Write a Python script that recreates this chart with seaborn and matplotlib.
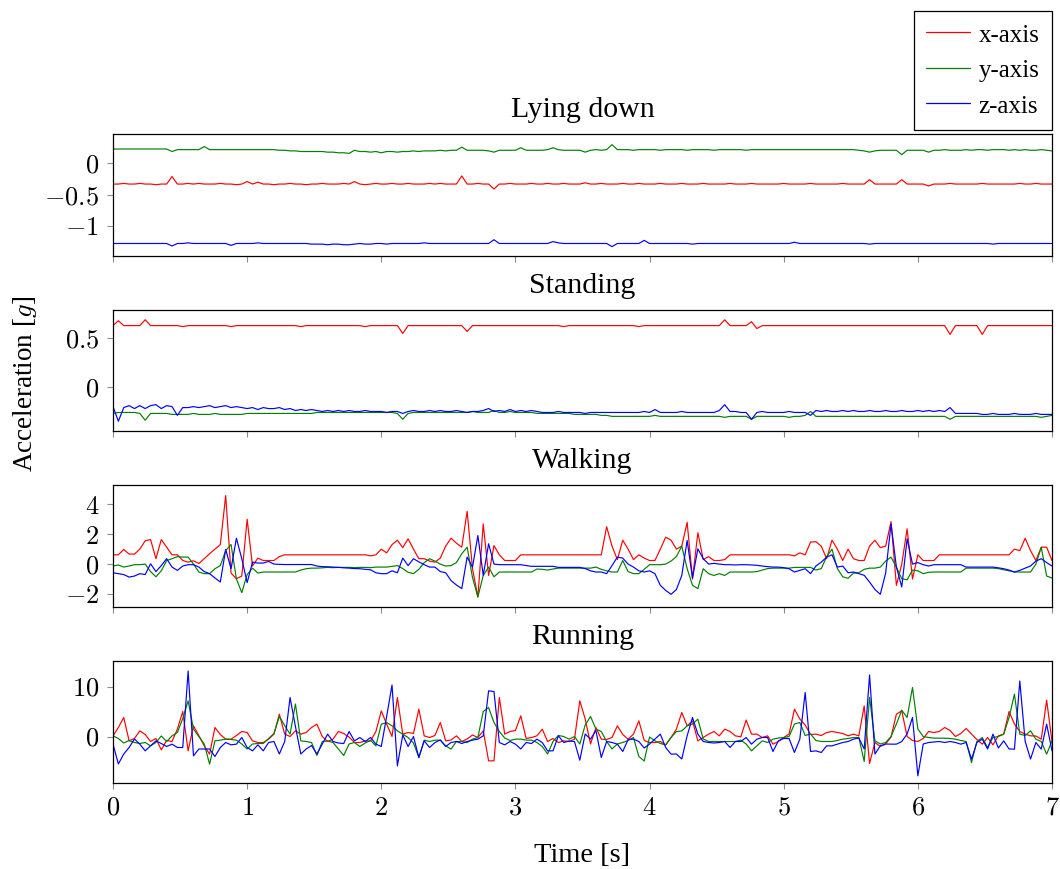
import numpy as np
import pandas as pd
import matplotlib
matplotlib.use("Agg")
import matplotlib.pyplot as plt
import seaborn as sns
from matplotlib.ticker import FuncFormatter

SAMPLE_RATE = 25  # samples per second

panel_titles = ["Lying down", "Standing", "Walking", "Running"]
axis_labels = ["x-axis", "y-axis", "z-axis"]
x_ticks = [0, 1, 2, 3, 4, 5, 6, 7]
y_ticks = [[-1, -0.5, 0], [0, 0.5], [-2, 0, 2, 4], [0, 10]]
y_limits = [(-1.48, 0.47), (-0.45, 0.79), (-2.87, 5.29), (-9.3, 15.1)]

# ---------------- Lying down ----------------
lying_x = [
    -0.33, -0.33, -0.32, -0.33, -0.33, -0.32, -0.33, -0.33, -0.34, -0.33,
    -0.33, -0.21, -0.33, -0.33, -0.32, -0.33, -0.32, -0.33, -0.33, -0.33,
    -0.32, -0.33, -0.33, -0.34, -0.33, -0.29, -0.33, -0.30, -0.33, -0.33,
    -0.34, -0.33, -0.33, -0.32, -0.33, -0.33, -0.34, -0.33, -0.33, -0.32,
    -0.33, -0.33, -0.33, -0.32, -0.33, -0.29, -0.33, -0.34, -0.33, -0.32,
    -0.33, -0.33, -0.32, -0.33, -0.33, -0.32, -0.33, -0.33, -0.33, -0.32,
    -0.33, -0.32, -0.33, -0.33, -0.33, -0.20, -0.33, -0.33, -0.32, -0.33,
    -0.33, -0.41, -0.33, -0.33, -0.32, -0.33, -0.33, -0.33, -0.32, -0.33,
    -0.33, -0.32, -0.33, -0.33, -0.32, -0.33, -0.33, -0.33, -0.31, -0.33,
    -0.33, -0.32, -0.33, -0.33, -0.33, -0.32, -0.33, -0.33, -0.32, -0.33,
    -0.33, -0.33, -0.32, -0.33, -0.33, -0.33, -0.32, -0.33, -0.33, -0.33,
    -0.32, -0.33, -0.33, -0.33, -0.33, -0.32, -0.33, -0.33, -0.33, -0.32,
    -0.33, -0.33, -0.33, -0.33, -0.33, -0.32, -0.33, -0.33, -0.33, -0.33,
    -0.32, -0.33, -0.33, -0.33, -0.33, -0.33, -0.32, -0.33, -0.33, -0.33,
    -0.33, -0.26, -0.33, -0.33, -0.33, -0.33, -0.33, -0.26, -0.33, -0.33,
    -0.33, -0.33, -0.36, -0.33, -0.33, -0.33, -0.32, -0.33, -0.33, -0.33,
    -0.33, -0.33, -0.32, -0.33, -0.33, -0.33, -0.33, -0.33, -0.33, -0.32,
    -0.33, -0.33, -0.32, -0.33, -0.33, -0.33,
]
lying_y = [
    0.23, 0.23, 0.23, 0.23, 0.23, 0.23, 0.23, 0.23, 0.23, 0.23,
    0.23, 0.19, 0.22, 0.22, 0.22, 0.22, 0.22, 0.27, 0.22, 0.22,
    0.22, 0.22, 0.22, 0.22, 0.22, 0.22, 0.22, 0.22, 0.22, 0.22,
    0.22, 0.21, 0.21, 0.20, 0.20, 0.19, 0.19, 0.19, 0.19, 0.19,
    0.18, 0.18, 0.17, 0.17, 0.16, 0.21, 0.19, 0.19, 0.18, 0.19,
    0.17, 0.19, 0.19, 0.18, 0.19, 0.19, 0.20, 0.19, 0.20, 0.20,
    0.20, 0.21, 0.20, 0.21, 0.21, 0.26, 0.21, 0.21, 0.21, 0.21,
    0.20, 0.18, 0.21, 0.21, 0.21, 0.21, 0.25, 0.21, 0.21, 0.21,
    0.21, 0.22, 0.25, 0.22, 0.21, 0.21, 0.21, 0.21, 0.18, 0.21,
    0.22, 0.21, 0.22, 0.30, 0.22, 0.22, 0.22, 0.21, 0.22, 0.22,
    0.22, 0.22, 0.21, 0.22, 0.22, 0.22, 0.22, 0.21, 0.22, 0.22,
    0.22, 0.22, 0.21, 0.22, 0.22, 0.22, 0.22, 0.22, 0.21, 0.22,
    0.22, 0.22, 0.22, 0.22, 0.22, 0.22, 0.22, 0.22, 0.22, 0.22,
    0.22, 0.22, 0.22, 0.22, 0.22, 0.22, 0.22, 0.22, 0.22, 0.21,
    0.20, 0.18, 0.20, 0.21, 0.21, 0.21, 0.21, 0.14, 0.21, 0.21,
    0.21, 0.21, 0.18, 0.21, 0.21, 0.22, 0.21, 0.21, 0.21, 0.22,
    0.21, 0.22, 0.22, 0.21, 0.22, 0.22, 0.22, 0.21, 0.22, 0.21,
    0.22, 0.21, 0.21, 0.22, 0.21, 0.20,
]
lying_z = [
    -1.28, -1.28, -1.28, -1.28, -1.28, -1.28, -1.28, -1.28, -1.28, -1.28,
    -1.28, -1.32, -1.28, -1.28, -1.27, -1.28, -1.28, -1.28, -1.28, -1.28,
    -1.28, -1.28, -1.31, -1.28, -1.28, -1.28, -1.28, -1.27, -1.28, -1.28,
    -1.28, -1.28, -1.28, -1.28, -1.28, -1.28, -1.28, -1.29, -1.29, -1.29,
    -1.30, -1.29, -1.29, -1.30, -1.30, -1.29, -1.28, -1.29, -1.29, -1.28,
    -1.28, -1.29, -1.28, -1.28, -1.28, -1.28, -1.28, -1.28, -1.27, -1.28,
    -1.28, -1.28, -1.28, -1.28, -1.28, -1.28, -1.28, -1.28, -1.28, -1.28,
    -1.28, -1.22, -1.28, -1.28, -1.28, -1.28, -1.28, -1.28, -1.28, -1.28,
    -1.28, -1.28, -1.25, -1.27, -1.28, -1.28, -1.28, -1.28, -1.28, -1.28,
    -1.28, -1.28, -1.28, -1.33, -1.28, -1.28, -1.28, -1.28, -1.28, -1.23,
    -1.28, -1.28, -1.28, -1.28, -1.28, -1.28, -1.28, -1.28, -1.29, -1.28,
    -1.28, -1.28, -1.28, -1.28, -1.28, -1.28, -1.28, -1.28, -1.28, -1.28,
    -1.28, -1.28, -1.28, -1.28, -1.28, -1.28, -1.28, -1.26, -1.28, -1.28,
    -1.28, -1.28, -1.28, -1.28, -1.28, -1.28, -1.28, -1.28, -1.28, -1.28,
    -1.28, -1.29, -1.28, -1.28, -1.28, -1.28, -1.28, -1.28, -1.28, -1.28,
    -1.28, -1.28, -1.28, -1.28, -1.28, -1.28, -1.28, -1.28, -1.28, -1.28,
    -1.28, -1.28, -1.28, -1.28, -1.29, -1.28, -1.28, -1.28, -1.28, -1.28,
    -1.28, -1.28, -1.28, -1.28, -1.28, -1.28,
]

# ---------------- Standing ----------------
standing_x = [
    0.63, 0.68, 0.63, 0.63, 0.63, 0.63, 0.69, 0.63, 0.63, 0.63,
    0.63, 0.63, 0.63, 0.62, 0.63, 0.63, 0.63, 0.63, 0.63, 0.63,
    0.63, 0.63, 0.62, 0.63, 0.63, 0.63, 0.63, 0.63, 0.63, 0.63,
    0.63, 0.63, 0.63, 0.63, 0.63, 0.62, 0.63, 0.63, 0.63, 0.63,
    0.63, 0.63, 0.63, 0.63, 0.63, 0.63, 0.63, 0.62, 0.63, 0.63,
    0.63, 0.63, 0.63, 0.63, 0.55, 0.63, 0.63, 0.63, 0.63, 0.63,
    0.63, 0.63, 0.63, 0.63, 0.63, 0.63, 0.57, 0.63, 0.63, 0.63,
    0.63, 0.63, 0.63, 0.63, 0.63, 0.63, 0.63, 0.63, 0.63, 0.63,
    0.63, 0.63, 0.63, 0.63, 0.62, 0.63, 0.63, 0.63, 0.63, 0.63,
    0.63, 0.63, 0.63, 0.63, 0.63, 0.63, 0.63, 0.63, 0.62, 0.63,
    0.63, 0.63, 0.63, 0.63, 0.63, 0.63, 0.63, 0.63, 0.63, 0.63,
    0.63, 0.63, 0.63, 0.63, 0.69, 0.63, 0.63, 0.63, 0.63, 0.67,
    0.60, 0.63, 0.63, 0.63, 0.63, 0.63, 0.63, 0.63, 0.63, 0.63,
    0.63, 0.63, 0.63, 0.63, 0.63, 0.63, 0.63, 0.63, 0.63, 0.63,
    0.63, 0.63, 0.63, 0.63, 0.63, 0.63, 0.63, 0.63, 0.63, 0.63,
    0.63, 0.63, 0.63, 0.63, 0.63, 0.63, 0.54, 0.63, 0.63, 0.63,
    0.63, 0.63, 0.54, 0.63, 0.63, 0.63, 0.63, 0.63, 0.63, 0.63,
    0.63, 0.63, 0.63, 0.63, 0.63, 0.63,
]
standing_y = [
    -0.27, -0.26, -0.26, -0.26, -0.26, -0.27, -0.34, -0.27, -0.27, -0.27,
    -0.27, -0.28, -0.28, -0.28, -0.28, -0.27, -0.28, -0.28, -0.28, -0.27,
    -0.28, -0.28, -0.28, -0.28, -0.28, -0.27, -0.27, -0.27, -0.27, -0.27,
    -0.27, -0.27, -0.27, -0.27, -0.27, -0.27, -0.27, -0.27, -0.26, -0.26,
    -0.26, -0.26, -0.26, -0.26, -0.26, -0.26, -0.26, -0.26, -0.26, -0.26,
    -0.26, -0.26, -0.26, -0.27, -0.33, -0.27, -0.26, -0.26, -0.26, -0.26,
    -0.26, -0.26, -0.26, -0.26, -0.26, -0.26, -0.26, -0.25, -0.26, -0.26,
    -0.26, -0.24, -0.26, -0.26, -0.25, -0.26, -0.26, -0.26, -0.26, -0.27,
    -0.27, -0.27, -0.27, -0.27, -0.27, -0.27, -0.28, -0.28, -0.28, -0.28,
    -0.28, -0.29, -0.29, -0.30, -0.30, -0.30, -0.30, -0.30, -0.30, -0.30,
    -0.30, -0.29, -0.30, -0.30, -0.30, -0.30, -0.30, -0.30, -0.30, -0.30,
    -0.30, -0.30, -0.30, -0.30, -0.31, -0.30, -0.30, -0.30, -0.30, -0.33,
    -0.30, -0.30, -0.30, -0.30, -0.30, -0.30, -0.31, -0.30, -0.30, -0.29,
    -0.25, -0.30, -0.30, -0.30, -0.30, -0.30, -0.30, -0.30, -0.30, -0.30,
    -0.30, -0.30, -0.30, -0.30, -0.30, -0.30, -0.30, -0.30, -0.30, -0.30,
    -0.30, -0.30, -0.30, -0.30, -0.30, -0.30, -0.33, -0.30, -0.30, -0.30,
    -0.30, -0.30, -0.30, -0.30, -0.30, -0.30, -0.30, -0.30, -0.30, -0.30,
    -0.30, -0.30, -0.30, -0.31, -0.30, -0.29,
]
standing_z = [
    -0.20, -0.35, -0.21, -0.19, -0.22, -0.19, -0.22, -0.19, -0.18, -0.22,
    -0.19, -0.20, -0.29, -0.21, -0.21, -0.20, -0.21, -0.20, -0.19, -0.21,
    -0.20, -0.19, -0.21, -0.20, -0.21, -0.22, -0.21, -0.23, -0.21, -0.22,
    -0.22, -0.21, -0.23, -0.22, -0.24, -0.23, -0.24, -0.23, -0.24, -0.25,
    -0.24, -0.25, -0.24, -0.25, -0.24, -0.25, -0.25, -0.24, -0.25, -0.25,
    -0.25, -0.26, -0.25, -0.25, -0.27, -0.25, -0.24, -0.25, -0.25, -0.24,
    -0.25, -0.24, -0.25, -0.25, -0.24, -0.25, -0.26, -0.25, -0.25, -0.24,
    -0.22, -0.25, -0.24, -0.25, -0.23, -0.25, -0.24, -0.25, -0.24, -0.25,
    -0.26, -0.26, -0.26, -0.25, -0.26, -0.26, -0.26, -0.26, -0.27, -0.26,
    -0.26, -0.26, -0.26, -0.26, -0.26, -0.26, -0.26, -0.26, -0.26, -0.25,
    -0.26, -0.23, -0.26, -0.26, -0.26, -0.26, -0.25, -0.26, -0.26, -0.26,
    -0.26, -0.26, -0.26, -0.24, -0.18, -0.25, -0.25, -0.26, -0.26, -0.33,
    -0.26, -0.25, -0.26, -0.26, -0.26, -0.26, -0.25, -0.26, -0.26, -0.26,
    -0.29, -0.24, -0.25, -0.24, -0.25, -0.25, -0.24, -0.25, -0.24, -0.25,
    -0.25, -0.24, -0.25, -0.25, -0.24, -0.25, -0.25, -0.24, -0.25, -0.25,
    -0.24, -0.25, -0.24, -0.25, -0.24, -0.25, -0.21, -0.27, -0.27, -0.27,
    -0.27, -0.27, -0.28, -0.28, -0.27, -0.28, -0.28, -0.28, -0.27, -0.28,
    -0.28, -0.28, -0.27, -0.28, -0.28, -0.28,
]

# ---------------- Walking ----------------
walking_x = [
    0.62, 0.62, 0.98, 0.67, 0.67, 1.0, 1.56, 1.64, 0.36, 1.64,
    1.13, 0.62, 0.62, 0.24, 0.13, 0.22, 0.04, 0.36, 0.69, 1.0,
    1.3, 4.58, -0.6, -0.98, -0.8, 3.0, -0.13, 0.4, 0.24, 0.24,
    0.24, 0.5, 0.62, 0.62, 0.62, 0.62, 0.62, 0.62, 0.62, 0.62,
    0.62, 0.62, 0.62, 0.62, 0.62, 0.62, 0.62, 0.62, 0.55, 0.62,
    1.0, 0.75, 1.3, 1.6, 1.1, 1.69, 1.0, 0.36, 0.36, 0.2,
    0.13, 0.4, 1.2, 1.73, 1.4, 1.13, 3.53, -0.3, -2.2, 2.69,
    -0.76, 1.24, 0.62, 0.24, 0.24, 0.24, 0.62, 0.62, 0.62, 0.62,
    0.62, 0.62, 0.62, 0.62, 0.62, 0.62, 0.62, 0.62, 0.62, 0.62,
    0.62, 0.62, 2.5, 1.2, 0.3, 1.6, 1.0, 0.3, 0.62, 0.4,
    0.24, 0.24, 1.0, 1.8, 1.6, 1.0, 1.2, 2.8, -1.0, 2.1,
    0.3, 0.5, 0.24, 0.24, 0.3, 0.62, 0.62, 0.62, 0.62, 0.62,
    0.62, 0.62, 0.62, 0.62, 0.62, 0.62, 0.62, 0.55, 0.75, 0.62,
    1.47, 1.5, 1.2, 0.36, 1.6, 1.0, 0.24, 1.0, 0.36, 0.24,
    0.24, 1.2, 1.6, 1.1, 1.2, 2.84, -1.42, 0.0, 2.36, -1.0,
    0.62, 0.24, 0.24, 0.24, 0.62, 0.62, 0.62, 0.62, 0.62, 0.62,
    0.62, 0.62, 0.62, 0.62, 0.62, 0.62, 0.62, 0.62, 1.0, 0.9,
    1.73, 0.9, 0.24, 1.13, 1.13, 0.24,
]
walking_y = [
    -0.13, -0.06, -0.2, -0.13, -0.04, -0.04, 0.0, -0.5, -0.85, -0.45,
    0.24, 0.36, 0.5, 0.47, 0.47, 0.0, -0.53, -0.64, -0.64, -0.31,
    -0.1, 0.9, 1.31, -1.0, -1.91, -0.7, -0.27, -0.6, -0.53, -0.53,
    -0.53, -0.53, -0.53, -0.53, -0.53, -0.4, -0.31, -0.27, -0.27, -0.25,
    -0.22, -0.24, -0.22, -0.22, -0.22, -0.24, -0.22, -0.22, -0.24, -0.2,
    -0.2, -0.2, -0.15, -0.1, -0.3, -0.55, -0.64, -0.35, 0.1, 0.36,
    0.2, 0.0, -0.13, -0.1, 0.1, 0.69, 1.13, -0.9, -2.2, -0.76,
    -0.2, -0.85, -0.53, -0.53, -0.53, -0.53, -0.53, -0.53, -0.53, -0.33,
    -0.35, -0.4, -0.33, -0.27, -0.27, -0.27, -0.27, -0.27, -0.27, -0.27,
    -0.2, -0.35, -0.45, -0.53, -0.53, 0.24, -0.5, -0.64, -0.64, -0.35,
    -0.04, -0.04, -0.04, 0.0, 0.2, 0.5, 1.2, -0.3, -1.42, -1.64,
    -0.31, -0.64, -0.76, -0.64, -0.76, -0.53, -0.53, -0.53, -0.53, -0.53,
    -0.5, -0.4, -0.3, -0.27, -0.27, -0.27, -0.27, -0.22, -0.22, -0.22,
    -0.22, -0.4, -0.3, 0.5, 1.0, -0.3, -0.85, -0.95, -0.6, -0.58,
    -0.35, -0.27, -0.27, -0.2, 0.2, 0.47, -0.2, -0.98, -1.05, -0.4,
    -0.45, -0.64, -0.55, -0.53, -0.53, -0.53, -0.53, -0.53, -0.53, -0.27,
    -0.27, -0.27, -0.27, -0.27, -0.27, -0.3, -0.38, -0.45, -0.53, -0.53,
    -0.53, -0.53, 0.0, 1.13, -0.8, -0.93,
]
walking_z = [
    -0.58, -0.64, -0.7, -0.87, -0.8, -0.64, -0.7, 0.02, -0.5, -0.1,
    0.36, -0.2, -0.42, -0.13, -0.04, -0.04, -0.2, -0.5, -0.64, -0.93,
    -1.2, 0.98, -0.31, 1.73, 0.36, -1.24, 0.13, 0.07, 0.07, 0.18,
    0.0, -0.02, -0.03, -0.03, -0.03, -0.03, -0.03, -0.03, -0.13, -0.17,
    -0.18, -0.2, -0.22, -0.25, -0.27, -0.3, -0.31, -0.35, -0.38, -0.58,
    -0.64, -0.64, -0.45, -0.58, 0.4, -0.1, 0.36, 0.15, -0.04, -0.2,
    -0.2, -0.5, -0.58, -1.1, -1.4, -1.64, 0.47, -0.2, 1.91, -0.76,
    1.36, 0.0, -0.04, -0.04, -0.04, -0.04, -0.04, -0.1, -0.15, -0.15,
    -0.15, -0.15, -0.15, -0.22, -0.22, -0.22, -0.22, -0.22, -0.3, -0.45,
    -0.53, -0.53, -0.64, -0.1, 0.47, 0.4, 0.0, -0.2, -0.45, -0.53,
    -0.45, -0.64, -1.42, -1.76, -2.02, -1.7, -0.76, 1.58, -0.93, 1.02,
    0.36, 0.0, 0.05, 0.0, -0.04, -0.04, -0.06, -0.04, -0.04, -0.06,
    -0.08, -0.13, -0.17, -0.2, -0.2, -0.24, -0.31, -0.53, -0.42, -0.31,
    -0.64, -0.13, 0.13, 0.47, 0.62, -0.2, -0.13, -0.58, -0.53, -0.64,
    -0.75, -1.2, -1.7, -2.02, -0.6, 2.69, -0.2, -1.53, 1.69, 0.0,
    0.1, -0.04, -0.13, -0.04, -0.04, -0.04, -0.04, -0.04, -0.04, -0.2,
    -0.2, -0.2, -0.2, -0.2, -0.2, -0.25, -0.31, -0.4, -0.53, -0.42,
    -0.27, -0.13, 0.2, 0.36, 0.1, -0.13,
]

# ---------------- Running ----------------
running_x = [
    0.13, 1.8, 3.8, -0.87, -0.4, 1.13, 0.4, -1.0, -0.4, -2.67,
    -0.8, -1.0, 1.5, 5.0, -2.87, 2.13, 0.2, -1.87, -3.53, 1.8,
    0.4, -0.53, -0.53, 0.2, 1.0, 0.8, -0.87, -1.2, -1.2, -0.53,
    0.47, 4.47, 0.47, 0.0, 1.13, 0.47, 0.8, 1.8, 2.47, 0.0,
    -1.0, -0.53, 1.0, 0.6, -0.13, -1.2, -1.2, -0.9, -0.87, 1.0,
    5.13, 2.47, 0.0, 7.8, 0.47, 0.8, 0.6, 5.47, 0.13, -0.2,
    0.2, 2.8, -0.87, -0.7, 0.13, -1.0, -0.5, 0.3, -0.2, 1.13,
    -4.87, -4.87, 7.8, 0.47, 1.0, 1.2, 4.13, -0.4, -0.2, 0.13,
    1.47, -1.0, -0.4, -1.2, -0.87, -1.0, -0.53, 7.13, 3.5, -1.5,
    1.8, -0.53, -0.6, -0.2, 2.13, 0.4, -0.53, 0.47, 3.13, -0.8,
    -1.2, -1.2, -1.0, -1.7, -0.2, 1.47, 4.8, 2.13, 3.13, -0.87,
    -0.2, 0.47, 1.0, 0.13, 1.47, 1.0, 0.13, -0.07, 3.3, 0.47,
    0.47, -0.2, 0.13, -1.53, -1.0, -0.2, 0.5, 5.47, 3.5, 2.3,
    0.4, 0.47, 0.2, 0.8, 1.0, 0.8, 0.6, 0.13, 0.47, 0.13,
    6.13, -5.4, -1.2, -2.0, -1.5, -0.1, 4.47, 5.13, 0.0, -0.8,
    -1.0, -0.4, 1.0, 0.8, 1.0, 1.8, 1.2, 0.0, 0.6, 1.6,
    0.47, -0.6, -1.53, -0.2, -1.67, 0.13, 0.47, 5.0, 2.5, 1.0,
    0.47, 0.13, 0.1, -0.53, 7.27, -1.0,
]
running_y = [
    0.13, -0.4, -1.3, -0.8, -1.2, -1.4, -1.2, -1.87, -1.2, 0.1,
    -1.0, 0.13, 0.8, 3.6, 7.13, 1.47, 0.0, -1.5, -5.53, -0.87,
    -0.73, -0.53, -0.6, -0.73, -1.5, -2.5, -1.5, -1.4, -1.4, -0.4,
    0.6, 4.0, 2.2, 0.47, 6.5, -0.87, -1.0, -1.2, -3.8, -1.0,
    -0.9, -1.2, -2.5, -3.8, -1.5, -1.2, -2.0, -1.3, -0.8, -1.87,
    2.47, 2.8, 2.13, 1.13, 0.47, -0.2, -1.3, -4.2, -0.73, -1.0,
    -0.73, -0.73, -1.87, -2.53, -1.0, -1.0, -1.2, -0.53, -0.2, 5.0,
    5.8, 2.8, 1.0, -0.3, -0.8, -0.53, -0.53, -0.73, -0.73, -1.2,
    -2.0, -3.5, -1.0, 0.2, 0.0, -0.53, 0.0, -1.5, 2.3, 4.0,
    1.5, 1.0, -1.0, -2.5, -1.5, -1.2, -0.8, -0.2, -4.0, -4.9,
    -0.1, -0.87, -1.4, -1.67, -0.2, 1.0, 1.1, 2.13, 2.5, 3.47,
    -0.5, -1.0, -1.0, -1.0, -1.0, -1.0, -1.0, -0.73, -1.5, -2.87,
    -1.87, -0.87, -1.2, -0.53, -0.3, -0.2, 0.0, 2.5, 2.8, 0.2,
    0.5, -0.8, -1.0, -1.0, -1.0, -0.8, -0.53, -0.4, -0.2, -0.2,
    -5.0, 7.8, -0.87, -1.5, -1.2, 0.0, 2.5, 5.27, 3.8, 9.8,
    1.5, 0.0, -0.2, -0.33, -0.33, -0.33, -0.4, -0.53, -0.8, -1.0,
    -5.2, -1.0, -0.2, -2.2, -0.2, 0.0, 0.47, 3.8, 8.47, 0.47,
    0.2, 1.13, -0.53, -1.0, -3.53, -0.87,
]
running_z = [
    -1.53, -5.5, -3.5, -2.2, -0.5, -1.53, -2.87, -1.87, -0.87, -1.4,
    -2.0, -1.53, -2.2, -2.2, 13.1, -3.87, -2.5, -2.5, -2.5, -4.0,
    -2.2, -1.2, -1.67, -1.53, -0.2, -2.2, -2.87, -1.67, -2.87, -1.2,
    -1.0, -3.5, -1.0, 7.8, 2.0, -3.5, -2.5, -1.8, -3.5, -1.53,
    0.47, -1.0, -1.3, -1.4, 1.0, -0.87, -0.2, -1.0, -0.2, -1.53,
    -2.0, 4.0, 10.3, -5.87, 0.3, -2.0, 0.0, -4.2, -0.87, -2.2,
    -1.2, -0.7, -2.0, -1.2, -1.0, -1.4, -1.0, -0.73, -0.53, 0.13,
    9.13, 9.0, -1.2, -1.67, -1.0, -1.53, -2.5, -1.2, -1.4, -0.53,
    -1.2, -2.87, -2.87, 0.13, -1.2, -0.9, -1.0, -4.73, 0.5, -0.53,
    1.2, -4.2, -1.0, -1.2, -1.53, -3.0, -0.6, -0.53, -1.0, -2.3,
    -1.5, -0.5, 0.47, -2.2, -3.53, -3.5, -4.5, 0.13, 3.8, 0.47,
    -1.0, -1.2, -1.3, -1.2, -1.0, -2.2, -1.0, -1.0, -0.2, -1.53,
    -0.53, -0.2, -0.2, -3.0, -0.87, -0.4, -0.4, -3.2, -0.53, 8.8,
    -3.0, -2.87, -3.2, -1.87, -1.87, -1.53, -1.2, -1.0, -0.53, -0.3,
    -2.5, 12.3, -3.5, -1.87, -1.5, -1.53, -1.53, -1.0, 0.5, 3.8,
    -7.87, -1.5, -1.2, -1.1, -1.0, -1.2, -1.0, -1.2, -1.53, -1.2,
    -4.53, -1.2, -0.53, -2.5, 0.47, -2.3, -0.87, -2.5, -2.53, 11.1,
    -1.0, -4.5, -1.2, -2.53, 2.47, -2.87,
]

panels = [
    (lying_x, lying_y, lying_z),
    (standing_x, standing_y, standing_z),
    (walking_x, walking_y, walking_z),
    (running_x, running_y, running_z),
]

palette = {"x-axis": "#ff0000", "y-axis": "#008000", "z-axis": "#0000ff"}

sns.set_theme(style="ticks")
plt.rcParams["font.family"] = ["Liberation Serif", "DejaVu Serif"]
plt.rcParams["mathtext.fontset"] = "cm"
plt.rcParams["text.color"] = "black"
plt.rcParams["axes.labelcolor"] = "black"
plt.rcParams["axes.titlecolor"] = "black"
plt.rcParams["xtick.labelcolor"] = "black"
plt.rcParams["ytick.labelcolor"] = "black"

fig = plt.figure(figsize=(10.6, 8.7), dpi=100)
W, H = 1060.0, 870.0
left, right = 113, 1052
tops = [135, 311, 486, 662]
bottoms = [257, 432, 608, 784]

tick_fmt = FuncFormatter(lambda v, p: "$%g$" % v)

axes = []
for i, (series, title) in enumerate(zip(panels, panel_titles)):
    ax = fig.add_axes([left / W, 1 - bottoms[i] / H, (right - left) / W,
                       (bottoms[i] - tops[i]) / H])
    frames = []
    for lab, vals in zip(axis_labels, series):
        t = np.arange(len(vals)) / SAMPLE_RATE
        frames.append(pd.DataFrame({"Time": t, "Acceleration": vals, "Axis": lab}))
    df = pd.concat(frames, ignore_index=True)
    sns.lineplot(data=df, x="Time", y="Acceleration", hue="Axis",
                 palette=palette, estimator=None, linewidth=0.85,
                 ax=ax, legend=(i == 0))
    ax.set_xlim(0, 7)
    ax.set_ylim(*y_limits[i])
    ax.set_xticks(x_ticks)
    ax.set_yticks(y_ticks[i])
    ax.xaxis.set_major_formatter(tick_fmt)
    ax.yaxis.set_major_formatter(tick_fmt)
    ax.set_xlabel("")
    ax.set_ylabel("")
    ax.tick_params(direction="out", length=4.5, width=0.8, color="0.55",
                   labelsize=19, labelcolor="black", pad=5.5)
    if i < 3:
        ax.tick_params(axis="x", labelbottom=False)
    for sp in ax.spines.values():
        sp.set_visible(True)
        sp.set_color("black")
        sp.set_linewidth(0.9)
    ax.set_title(title, fontsize=21.5, pad=13, color="black")
    axes.append(ax)

leg = axes[0].get_legend()
handles = leg.legend_handles
labels = [t.get_text() for t in leg.get_texts()]
leg.remove()
fl = fig.legend(handles, labels, loc="upper right",
                bbox_to_anchor=(right / W, 1 - 12 / H), frameon=True,
                fancybox=False, edgecolor="black", framealpha=1, fontsize=18,
                handlelength=1.75, handletextpad=0.35, borderpad=0.5,
                labelspacing=0.52, borderaxespad=0.0)
fl.get_frame().set_linewidth(0.9)
for h in fl.legend_handles:
    h.set_linewidth(0.9)
for txt in fl.get_texts():
    txt.set_color("black")

fig.text(25 / W, 1 - 384 / H, "Acceleration [$g$]", rotation=90,
         ha="center", va="center", fontsize=19.5, color="black")
fig.text((left + right) / 2 / W, 1 - 856 / H, "Time [s]",
         ha="center", va="center", fontsize=20.5, color="black")

fig.savefig("out.png", dpi=100)
